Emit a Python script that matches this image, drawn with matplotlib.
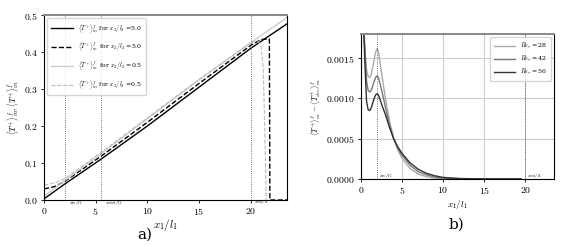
import numpy as np
import matplotlib.pyplot as plt

plt.rcParams['mathtext.fontset'] = 'cm'
plt.rcParams['font.family'] = 'DejaVu Serif'

# panel a) values
xa_m5 = [0.0, 2.0, 5.5, 10.0, 15.0, 20.0, 23.5]
ya_m5 = [0.003, 0.043, 0.110, 0.200, 0.305, 0.410, 0.476]
xa_in5 = [0.0, 1.0, 2.0, 5.5, 10.0, 15.0, 20.0, 21.0, 21.8, 21.85, 22.0, 23.5]
ya_in5 = [0.030, 0.036, 0.050, 0.118, 0.210, 0.315, 0.418, 0.434, 0.435, 0.0, 0.0, 0.0]
xa_in05 = [0.0, 2.0, 5.5, 10.0, 15.0, 20.0, 23.5]
ya_in05 = [0.010, 0.052, 0.125, 0.220, 0.325, 0.425, 0.493]
xa_m05 = [0.0, 1.0, 2.0, 5.5, 10.0, 15.0, 20.0, 20.7, 21.0, 21.2, 21.35, 21.5]
ya_m05 = [0.040, 0.046, 0.057, 0.128, 0.222, 0.326, 0.425, 0.430, 0.415, 0.36, 0.20, 0.0]
vlines_a = [2.0, 5.5, 20.0]
xticks = [0, 5, 10, 15, 20]
yticks_a = [0.0, 0.1, 0.2, 0.3, 0.4, 0.5]
yticks_b = [0.0, 0.0005, 0.0010, 0.0015]

# panel b) values
xb = [0.2, 0.35, 0.5, 0.7, 0.9, 1.1, 1.3, 1.5, 1.7, 1.85, 2.0, 2.15, 2.3, 2.6, 3.0, 3.5, 4.0, 4.5,
      5.0, 6.0, 7.0, 8.0, 9.0, 10.0, 12.0, 15.0, 19.5]
yb_28 = [0.0019, 0.0018, 0.00158, 0.00136, 0.00127, 0.00126, 0.00131, 0.00141, 0.00152, 0.00159, 0.00162,
         0.00158, 0.00148, 0.00127, 0.00100, 0.00072, 0.00051, 0.00036,
         0.00026, 0.00013, 0.00006, 0.000028, 0.000012, 0.000005, 0.000001, 0.0, 0.0]
yb_42 = [0.0019, 0.0019, 0.00165, 0.00122, 0.00110, 0.00108, 0.00111, 0.00117, 0.00123, 0.00127, 0.00128,
         0.00126, 0.00120, 0.00108, 0.00089, 0.00067, 0.00050, 0.00038,
         0.00030, 0.00017, 0.00009, 0.00005, 0.000025, 0.000012, 0.000003, 0.0, 0.0]
yb_56 = [0.0019, 0.0019, 0.00145, 0.00097, 0.00086, 0.00085, 0.00089, 0.00096, 0.00102, 0.00105, 0.00106,
         0.00104, 0.00100, 0.00091, 0.00080, 0.00064, 0.00050, 0.00040,
         0.00032, 0.00020, 0.00012, 0.00007, 0.00004, 0.00002, 0.000006, 0.000001, 0.0]
vlines_b = [2.0, 20.0]

fig = plt.figure(figsize=(5.69, 2.46), dpi=100)
ax1 = fig.add_axes([0.0773, 0.187, 0.427, 0.752])
ax2 = fig.add_axes([0.634, 0.2724, 0.3397, 0.589])

ax1.plot(xa_m5, ya_m5, '-', color='black', lw=1.0,
         label=r'$\langle T^{+}\rangle^f_{m}$ for $x_2/l_2$ =5.0')
ax1.plot(xa_in5, ya_in5, '--', color='black', lw=1.0,
         label=r'$\langle T^{+}\rangle^f_{in}$ for $x_2/l_2$ =5.0')
ax1.plot(xa_in05, ya_in05, '-', color='#cccccc', lw=1.0,
         label=r'$\langle T^{+}\rangle^f_{in}$ for $x_2/l_2$ =0.5')
ax1.plot(xa_m05, ya_m05, '--', color='#bbbbbb', lw=0.8,
         label=r'$\langle T^{+}\rangle^f_{m}$ for $x_2/l_2$ =0.5')
for v in vlines_a:
    ax1.axvline(v, color='#444444', ls=':', lw=0.6)
ax1.text(2.4, -0.012, r'$x_{in}/l_1$', fontsize=3.5)
ax1.text(5.9, -0.012, r'$x_{start}/l_1$', fontsize=3.5)
ax1.text(20.3, -0.007, r'$x_{out}/l_1$', fontsize=3.5)
ax1.set_xlim(0, 23.5)
ax1.set_ylim(0, 0.5)
ax1.set_xticks(xticks)
ax1.set_xticklabels(['$%d$' % t for t in xticks])
ax1.set_yticks(yticks_a)
ax1.set_yticklabels(['$%.1f$' % t for t in yticks_a])
ax1.set_xlabel(r'$x_1/l_1$', fontsize=8, labelpad=0)
ax1.set_ylabel(r'$\langle T^{+}\rangle^f_{m}, \langle T^{+}\rangle^f_{in}$', fontsize=6, labelpad=2)
ax1.legend(loc='upper left', fontsize=4.5, frameon=True, handlelength=3.5, borderpad=0.6, labelspacing=0.9)

ax2.plot(xb, yb_28, color='#aaaaaa', lw=1.0, label=r'$Re_\tau$ =28')
ax2.plot(xb, yb_42, color='#777777', lw=1.0, label=r'$Re_\tau$ =42')
ax2.plot(xb, yb_56, color='#333333', lw=1.0, label=r'$Re_\tau$ =56')
for v in vlines_b:
    ax2.axvline(v, color='#444444', ls=':', lw=0.6)
ax2.text(2.2, 0.00002, r'$x_{in}/l_1$', fontsize=3.5)
ax2.text(20.2, 0.00002, r'$x_{out}/l_1$', fontsize=3.5)
ax2.grid(True, color='#cccccc', lw=0.8)
ax2.set_xlim(0, 23.5)
ax2.set_ylim(0, 0.0018)
ax2.set_xticks(xticks)
ax2.set_xticklabels(['$%d$' % t for t in xticks])
ax2.set_yticks(yticks_b)
ax2.set_yticklabels(['$%.4f$' % t for t in yticks_b])
ax2.set_xlabel(r'$x_1/l_1$', fontsize=6.5, labelpad=1)
ax2.set_ylabel(r'$\langle T^{+}\rangle^f_{m} - \langle T^{+}_{dev}\rangle^f_{m}$', fontsize=5.5, labelpad=2)
ax2.legend(loc='upper right', fontsize=4.5, handlelength=3.5, borderpad=0.6)

for ax in (ax1, ax2):
    ax.tick_params(labelsize=7, length=2.5, width=0.6, pad=2)
    for s in ax.spines.values():
        s.set_linewidth(0.8)
    ax.spines['top'].set_color('#888888')
    ax.spines['top'].set_linewidth(1.4)

fig.text(0.255, 0.03, 'a)', fontsize=11, ha='center', family='DejaVu Serif')
fig.text(0.803, 0.07, 'b)', fontsize=11, ha='center', family='DejaVu Serif')

fig.savefig('out.png', dpi=100)
